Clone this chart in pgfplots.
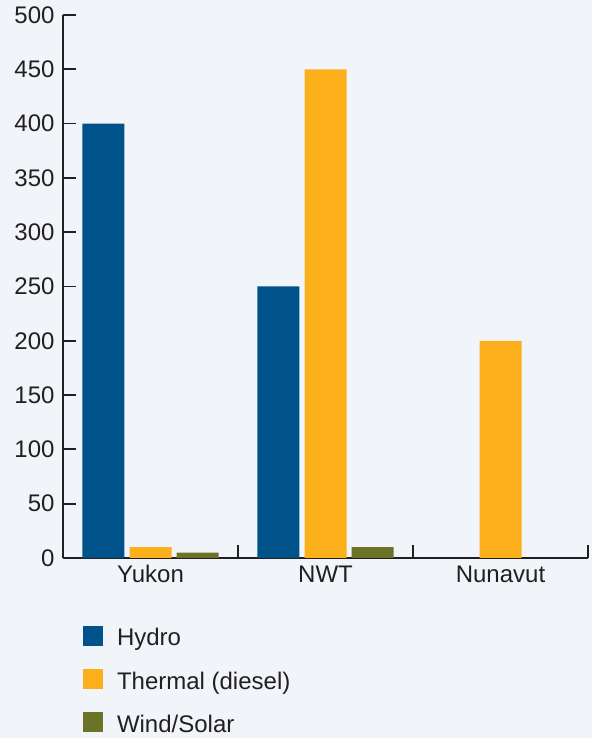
\documentclass[border=0pt]{standalone}
\usepackage{fontspec}
\setmainfont{Liberation Sans}
\usepackage{pgfplots}
\pgfplotsset{compat=1.18}
\definecolor{bgc}{HTML}{F1F5FA}
\definecolor{hydro}{HTML}{00538A}
\definecolor{thermal}{HTML}{FBAF1A}
\definecolor{wind}{HTML}{6B7328}
\definecolor{ink}{HTML}{231F20}
\newcommand{\lbl}{\fontsize{24}{28}\selectfont}
\begin{document}
\begin{tikzpicture}
\fill[bgc] (0pt,0pt) rectangle (592pt,738pt);
\begin{axis}[
  at={(63pt,180pt)}, anchor=south west,
  scale only axis, width=525pt, height=543pt,
  xmin=-0.5, xmax=2.5, ymin=0, ymax=500,
  clip=false,
  axis lines=left,
  axis line style={-, draw=ink, line width=1.8pt},
  tick align=inside,
  major tick length=13pt,
  tick style={draw=ink, line width=1.8pt},
  ytick={0,50,...,500},
  xtick={-0.5,0.5,1.5,2.5},
  xticklabels={},
  extra x ticks={0,1,2},
  extra x tick labels={Yukon,NWT,Nunavut},
  extra x tick style={major tick length=0pt},
  tick label style={font=\lbl, text=ink},
  yticklabel style={xshift=-5pt},
  xticklabel style={yshift=-4pt},
  /pgf/number format/assume math mode=true,
  /pgf/number format/1000 sep={},
  legend style={at={(rel axis cs:0,0)}, anchor=north west,
    xshift=20pt, yshift=-68pt, draw=none, fill=none,
    inner sep=0pt, outer sep=0pt, row sep=21.7pt, column sep=14pt,
    font=\lbl, text=ink, nodes={inner sep=0pt}},
  legend cell align=left,
  legend image code/.code={\fill[#1] (0pt,-8pt) rectangle (20pt,12pt);},
]
\addplot[ybar, bar width=0.24, bar shift=-0.269, fill=hydro, draw=none]
  coordinates {(0,400) (1,250)};
\addplot[ybar, bar width=0.24, bar shift=0, fill=thermal, draw=none]
  coordinates {(0,10) (1,450) (2,200)};
\addplot[ybar, bar width=0.24, bar shift=0.269, fill=wind, draw=none]
  coordinates {(0,5) (1,10)};
\legend{Hydro,Thermal (diesel),Wind/Solar}
\end{axis}
\pgfresetboundingbox
\useasboundingbox (0pt,0pt) rectangle (592pt,738pt);
\end{tikzpicture}
\end{document}
